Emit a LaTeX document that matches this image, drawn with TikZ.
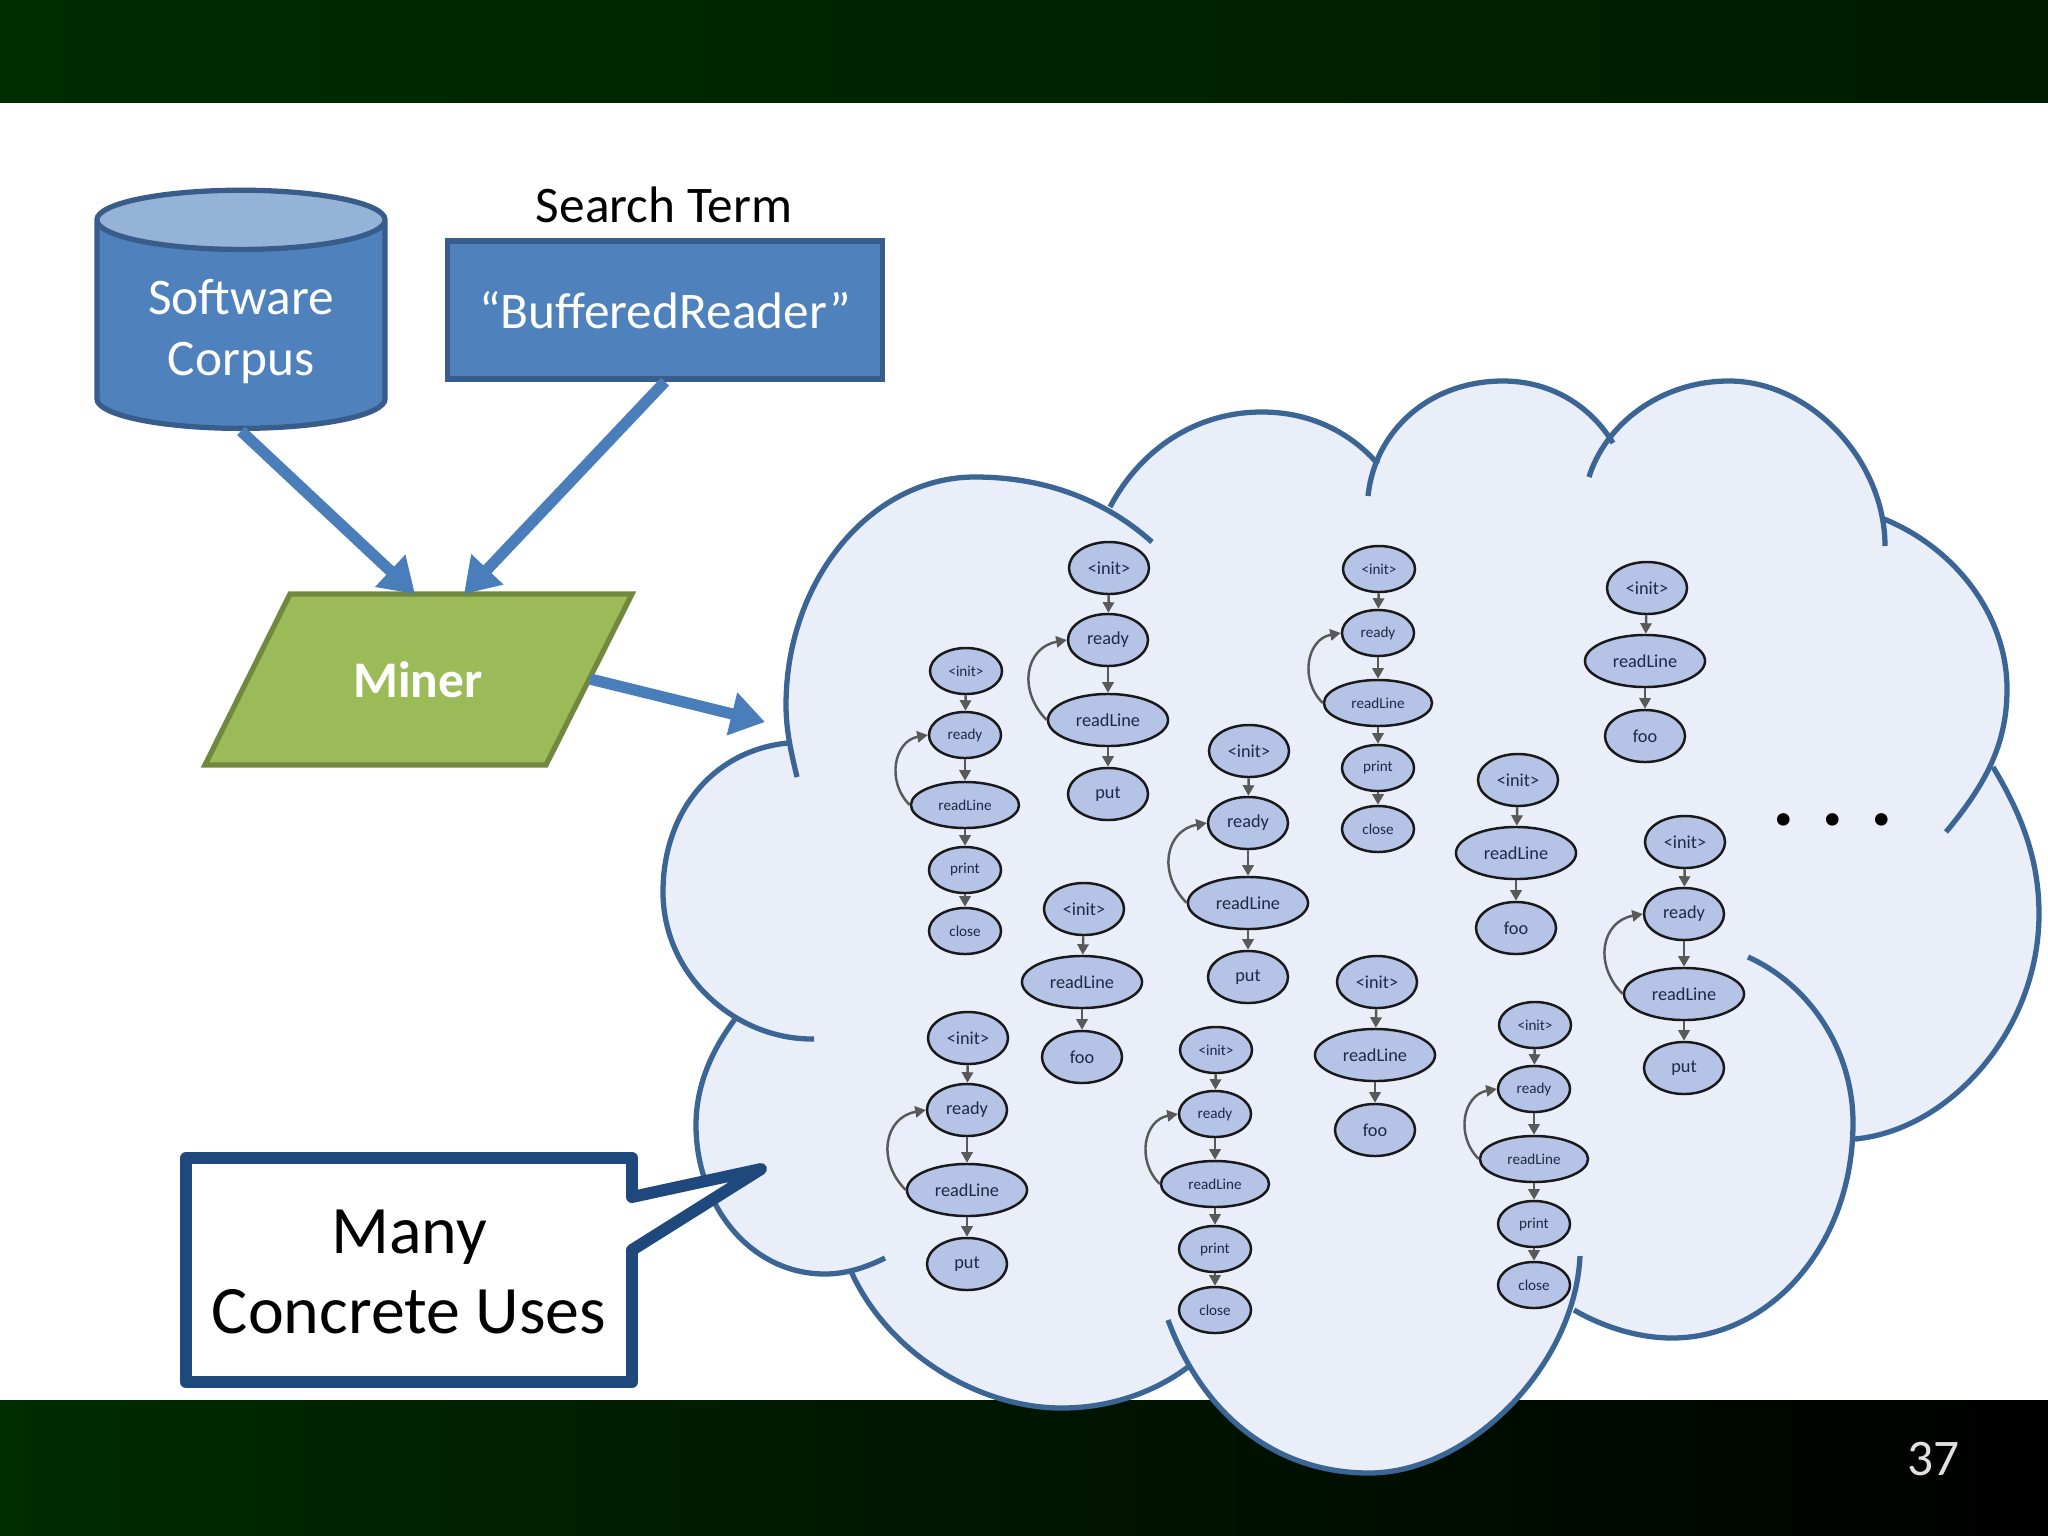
\documentclass[tikz,border=0pt]{standalone}
\usepackage{fontspec}
\setmainfont{Carlito}
\usetikzlibrary{shapes.geometric,arrows.meta}

\definecolor{boxblue}{HTML}{4F81BD}
\definecolor{boxline}{HTML}{385D8A}
\definecolor{capblue}{HTML}{95B3D7}
\definecolor{arrowblue}{HTML}{4A7EBB}
\definecolor{minergreen}{HTML}{9BBB59}
\definecolor{minerline}{HTML}{71893F}
\definecolor{cloudfill}{HTML}{E9EEF8}
\definecolor{cloudline}{HTML}{3A6595}
\definecolor{calloutline}{HTML}{1F497D}
\definecolor{usefill}{HTML}{B4C3E6}
\definecolor{usetext}{HTML}{1B2A45}
\definecolor{useflow}{HTML}{595959}
\definecolor{topleft}{HTML}{002C00}
\definecolor{topmid}{HTML}{003000}
\definecolor{topright}{HTML}{001C00}
\definecolor{baseleft}{HTML}{002C00}
\definecolor{basemid}{HTML}{001800}

% one lobe of the cloud, filled or stroked
\newcommand{\lobefill}[1]{\fill[cloudfill] #1 -- (cloudmid) -- cycle;}
\newcommand{\lobeline}[1]{\draw[cloudline,line width=1.5pt] #1;}
\newcommand{\cloudlobes}[1]{%
  #1{(797,777) .. controls (791,752) and (786,730) .. (786,705) .. controls (786,580) and (871,477) .. (975,477)
     .. controls (1045,477) and (1105,500) .. (1152,542)}
  #1{(1110,507) .. controls (1140,450) and (1195,412) .. (1262,412) .. controls (1310,412) and (1350,432) .. (1378,464)}
  #1{(1368,496) .. controls (1375,430) and (1430,381) .. (1503,381) .. controls (1550,381) and (1590,405) .. (1613,443)}
  #1{(1589,477) .. controls (1605,425) and (1660,381) .. (1729,381) .. controls (1810,381) and (1885,460) .. (1885,546)}
  #1{(1884,519) .. controls (1955,548) and (2007,615) .. (2007,689) .. controls (2007,745) and (1985,785) .. (1946,832)}
  #1{(1993,767) .. controls (2022,815) and (2039,860) .. (2039,914) .. controls (2039,1030) and (1950,1130) .. (1855,1139)}
  #1{(1748,957) .. controls (1810,985) and (1853,1050) .. (1853,1123) .. controls (1853,1245) and (1770,1338) .. (1672,1338)
     .. controls (1640,1338) and (1605,1328) .. (1574,1310)}
  #1{(1168,1320) .. controls (1205,1420) and (1280,1473) .. (1369,1473) .. controls (1470,1473) and (1575,1365) .. (1580,1256)}
  #1{(850,1269) .. controls (885,1350) and (975,1408) .. (1062,1408) .. controls (1110,1408) and (1155,1392) .. (1188,1367)}
  #1{(885,1258) .. controls (865,1268) and (845,1274) .. (825,1274) .. controls (750,1274) and (696,1205) .. (696,1125)
     .. controls (696,1085) and (712,1050) .. (735,1019)}
  #1{(814,1039) .. controls (735,1040) and (663,975) .. (663,892) .. controls (663,810) and (715,750) .. (788,743)}%
}

\begin{document}
\begin{tikzpicture}[x=0.01cm,y=-0.01cm]
  \tikzset{
    big text/.style={text=white,font=\fontsize{14.6}{17.4}\selectfont,align=center},
    usenode/.style={ellipse,draw=black!90,line width=0.7pt,fill=usefill,inner sep=0pt,
      text=usetext,minimum width=.8cm,minimum height=.52cm,font=\fontsize{#1}{6}\selectfont},
    usewide/.style={usenode=#1,minimum width=1.2cm},
    smallnode/.style={usenode=4.3,minimum width=.72cm,minimum height=.46cm},
    smallwide/.style={smallnode,minimum width=1.08cm},
    useflow/.style={draw=useflow,line width=0.7pt,-{Triangle[length=3pt,width=3.2pt]}},
    blockarrow/.style={draw=arrowblue,line width=3.2pt,-{Triangle[length=.34cm,width=.42cm]}}
  }
  \useasboundingbox (0,0) rectangle (2048,1536);
  \fill[white] (0,0) rectangle (2048,1536);
  \shade[left color=topleft,middle color=topmid,right color=topright] (0,0) rectangle (2048,102);
  \shade[left color=baseleft,middle color=basemid,right color=black] (0,1400) rectangle (2048,1536);

  \coordinate (cloudmid) at (1300,900);
  \cloudlobes\lobefill
  \cloudlobes\lobeline

  \node [cylinder,shape border rotate=90,shape aspect=0.283,cylinder uses custom fill,
    cylinder body fill=boxblue,cylinder end fill=capblue,draw=boxline,line width=1.5pt,
    minimum width=2.88cm,minimum height=2.38cm,big text,anchor=south] (corpus) at (241,431)
    {Software\\Corpus};
  \node [rectangle,fill=boxblue,draw=boxline,line width=1.5pt,minimum width=4.35cm,minimum height=1.38cm,
    big text] (term) at (665,310) {“BufferedReader”};
  \node [anchor=south,font=\fontsize{14.6}{17}\selectfont] (termlabel) at (664,235) {Search Term};

  \draw [fill=minergreen,draw=minerline,line width=1.5pt] (290,594) -- (632,594) -- (546,765) -- (205,765) -- cycle;
  \node [text=white,font=\fontsize{14.6}{17}\bfseries\selectfont] (miner) at (418,680) {Miner};

  \coordinate (minerleft) at (415,594);
  \coordinate (minerright) at (464,594);
  \coordinate (minerout) at (590,679);
  \coordinate (cloudin) at (765,722);
  \draw [blockarrow] (corpus.south) -- (minerleft);
  \draw [blockarrow] (term.south) -- (minerright);
  \draw [blockarrow] (minerout) -- (cloudin);

  % uses that read a line and put it somewhere
  \foreach \g/\x/\y in {a/1109/568,b/1249/751,c/1685/842,d/968/1038}{
    \begin{scope}[shift={(\x,\y)}]
      \node [usenode=5.2] (\g-init) at (0,0) {<init>};
      \node [usenode=5.2] (\g-ready) at (-1,72) {ready};
      \node [usewide=5.2] (\g-line) at (-1,152) {readLine};
      \node [usenode=5.2] (\g-put) at (-1,226) {put};
    \end{scope}
    \draw [useflow] (\g-init) -- (\g-ready);
    \draw [useflow] (\g-ready) -- (\g-line);
    \draw [useflow] (\g-line) -- (\g-put);
    \draw [useflow] (\g-line.west) to[out=135,in=190,looseness=1.3] (\g-ready.west);
  }
  % uses that print and close
  \foreach \g/\x/\y in {e/966/671,f/1379/569,h/1216/1050,i/1535/1025}{
    \begin{scope}[shift={(\x,\y)}]
      \node [smallnode] (\g-init) at (0,0) {<init>};
      \node [smallnode] (\g-ready) at (-1,64) {ready};
      \node [smallwide] (\g-line) at (-1,134) {readLine};
      \node [smallnode] (\g-print) at (-1,199) {print};
      \node [smallnode] (\g-close) at (-1,260) {close};
    \end{scope}
    \draw [useflow] (\g-init) -- (\g-ready);
    \draw [useflow] (\g-ready) -- (\g-line);
    \draw [useflow] (\g-line) -- (\g-print);
    \draw [useflow] (\g-print) -- (\g-close);
    \draw [useflow] (\g-line.west) to[out=135,in=190,looseness=1.2] (\g-ready.west);
  }
  % uses without a loop
  \foreach \g/\x/\y in {j/1647/588,k/1518/780,l/1084/909,m/1377/982}{
    \begin{scope}[shift={(\x,\y)}]
      \node [usenode=5.2] (\g-init) at (0,0) {<init>};
      \node [usewide=5.2] (\g-line) at (-2,73) {readLine};
      \node [usenode=5.2] (\g-foo) at (-2,148) {foo};
    \end{scope}
    \draw [useflow] (\g-init) -- (\g-line);
    \draw [useflow] (\g-line) -- (\g-foo);
  }

  \node [anchor=base,font=\fontsize{24}{24}\bfseries\selectfont] (dots) at (1833,825) {.\hspace{7.5pt}.\hspace{7.5pt}.};

  \draw [calloutline,line width=3.4pt,fill=white,line join=round]
    (186,1158) -- (632,1158) -- (632,1197) -- (761,1169) -- (632,1250) -- (632,1382) -- (186,1382) -- cycle;
  \node [align=center,font=\fontsize{19.3}{23}\selectfont] (uses) at (409,1272) {Many\\Concrete Uses};

  \node [text=white!88!black,font=\fontsize{14.6}{16}\selectfont] (pagenum) at (1933,1459) {37};
\end{tikzpicture}
\end{document}
